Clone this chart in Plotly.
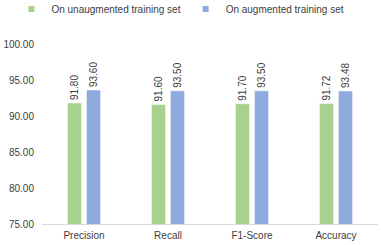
import plotly.graph_objects as go

categories = ["Precision", "Recall", "F1-Score", "Accuracy"]
unaug = [91.80, 91.60, 91.70, 91.72]
aug = [93.60, 93.50, 93.50, 93.48]
series_names = ["On unaugmented training set", "On augmented training set"]
colors = ["#A9D18E", "#8FAADC"]

FONT = "Liberation Sans, Arial, sans-serif"

fig = go.Figure()
for name, vals, col in zip(series_names, [unaug, aug], colors):
    fig.add_trace(go.Bar(
        x=categories, y=vals, name=name, showlegend=False,
        marker=dict(color=col, line=dict(color="white", width=0.5)),
        text=[f"{v:.2f}" for v in vals],
        textposition="outside", textangle=-90,
        textfont=dict(size=10, color="#404040"),
        constraintext="none",
        cliponaxis=False,
    ))
# legend entries (small square swatches, like the reference)
for name, col in zip(series_names, colors):
    fig.add_trace(go.Scatter(
        x=[None], y=[None], mode="markers", name=name,
        marker=dict(symbol="square", size=6, color=col),
        showlegend=True,
    ))

fig.update_layout(
    width=381, height=245,
    margin=dict(l=42, r=3, t=44, b=21, autoexpand=False),
    paper_bgcolor="white", plot_bgcolor="white",
    barmode="group", bargap=0.546, bargroupgap=0.26,
    uniformtext=dict(minsize=10, mode="show"),
    font=dict(family=FONT, size=10, color="#000000"),
    showlegend=True,
    legend=dict(orientation="h", xref="container", yref="paper",
                x=0.03, xanchor="left", y=1.275, yanchor="top",
                font=dict(size=10, color="#404040"), itemwidth=30,
                traceorder="normal"),
    xaxis=dict(showline=True, linecolor="#D9D9D9", linewidth=1, ticks="",
               automargin=False, ticklabelstandoff=2,
               tickfont=dict(size=10, color="#404040")),
    yaxis=dict(range=[75, 100], dtick=5, tickformat=".2f", showgrid=False,
               automargin=False, ticklabelstandoff=7,
               zeroline=False, showline=False, ticks="",
               tickfont=dict(size=10, color="#404040")),
)

fig.write_html("out.html", config={"displayModeBar": False},
               post_script="document.body.style.margin='0';")
